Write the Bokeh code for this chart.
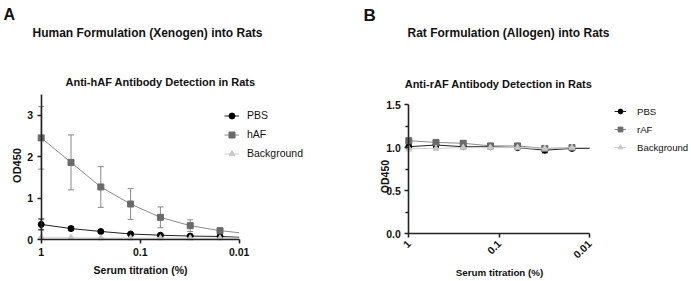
import math
from bokeh.plotting import figure
from bokeh.layouts import row
from bokeh.models import (Range1d, FixedTicker, Whisker, TeeHead, ColumnDataSource,
                          Legend, LegendItem, Label, PrintfTickFormatter)
from bokeh.embed import file_html
from bokeh.resources import INLINE

# ---------------- data ----------------
dilution = [1, 0.5, 0.25, 0.125, 0.0625, 0.03125, 0.015625]
fit_end_x = 0.01

# Panel A (xenogen)
a_pbs = [0.37, 0.27, 0.20, 0.14, 0.11, 0.09, 0.08]
a_pbs_err = [0.13, 0.04, 0.02, 0.02, 0.01, 0.01, 0.01]
a_pbs_fit_end = 0.06
a_haf = [2.45, 1.86, 1.27, 0.86, 0.54, 0.34, 0.22]
a_haf_err = [0.75, 0.66, 0.49, 0.37, 0.25, 0.14, 0.05]
a_haf_fit_end = 0.17
a_bg = [0.05, 0.05, 0.04, 0.04, 0.04, 0.04, 0.04]
a_bg_err = [0.01, 0.01, 0.01, 0.01, 0.01, 0.01, 0.01]
a_bg_fit_end = 0.04

# Panel B (allogen)
b_pbs = [1.01, 1.03, 1.01, 1.01, 1.00, 0.97, 0.99]
b_pbs_err = [0.02, 0.03, 0.02, 0.01, 0.02, 0.03, 0.02]
b_pbs_fit_end = 0.99
b_raf = [1.08, 1.06, 1.05, 1.02, 1.02, 0.99, 1.00]
b_raf_err = [0.03, 0.03, 0.03, 0.02, 0.02, 0.02, 0.02]
b_raf_fit_end = 1.00
b_bg = [0.99, 0.99, 1.00, 1.00, 1.00, 0.99, 1.00]
b_bg_err = [0.03, 0.02, 0.02, 0.02, 0.02, 0.02, 0.02]
b_bg_fit_end = 1.00

x_ticks = [1, 0.1, 0.01]
x_tick_labels = ["1", "0.1", "0.01"]
a_y_ticks = [0, 1, 2, 3]
b_y_ticks = [0, 0.5, 1.0, 1.5]
b_y_minor = [0.25, 0.75, 1.25]

FONT = "Liberation Sans"
H = 281


def make_panel(width, px_x1, px_decade, px_y0, px_per_unit, ymax, yticks, yminor,
               series, rotate, texts, legend_loc, glyph_w, legend_h, leg_standoff,
               leg_size, tick_size, yfmt):
    # the frame fills the whole canvas; axes are pinned at x=1 / y=0
    x_start = 10 ** (px_x1 / px_decade)
    x_end = 10 ** (-(width - px_x1) / px_decade)
    y_top = px_y0 / px_per_unit
    y_bot = -(H - px_y0) / px_per_unit
    p = figure(width=width, height=H, x_axis_type="log",
               x_range=Range1d(x_start, x_end), y_range=Range1d(y_bot, y_top),
               output_backend="svg", toolbar_location=None,
               min_border_left=0, min_border_right=0,
               min_border_top=0, min_border_bottom=0)
    p.outline_line_color = None
    p.grid.visible = False
    p.background_fill_color = "white"
    p.border_fill_color = "white"

    items = []
    for name, vals, errs, fit_end, color, lcolor, ecolor, marker, msize in series:
        xs = dilution + [fit_end_x]
        ys = vals + [fit_end]
        lr = p.line(xs, ys, line_color=lcolor, line_width=1)
        src = ColumnDataSource(dict(x=dilution, y=vals,
                                    lo=[v - e for v, e in zip(vals, errs)],
                                    hi=[v + e for v, e in zip(vals, errs)]))
        w = Whisker(base="x", upper="hi", lower="lo", source=src,
                    line_color=ecolor, line_width=1,
                    upper_head=TeeHead(size=6, line_color=ecolor, line_width=1),
                    lower_head=TeeHead(size=6, line_color=ecolor, line_width=1))
        p.add_layout(w)
        sr = p.scatter("x", "y", source=src, marker=marker, size=msize,
                       fill_color=color, line_color=color)
        items.append(LegendItem(label=name, renderers=[lr, sr]))

    leg = Legend(items=items, location=legend_loc, padding=0, margin=0, spacing=0,
                 glyph_width=glyph_w, glyph_height=legend_h, label_height=legend_h,
                 label_standoff=leg_standoff, border_line_color=None,
                 background_fill_alpha=0, label_text_font=FONT,
                 label_text_font_size=leg_size, label_text_color="#111111")
    p.add_layout(leg, "center")

    for ax in (p.xaxis[0], p.yaxis[0]):
        ax.axis_line_width = 1.6
        ax.axis_line_color = "#222222"
        ax.major_tick_line_width = 1.6
        ax.major_tick_line_color = "#222222"
        ax.major_tick_out = 4
        ax.major_tick_in = 0
        ax.minor_tick_out = 3
        ax.minor_tick_in = 0
        ax.minor_tick_line_width = 1.4
        ax.minor_tick_line_color = "#222222"
        ax.major_label_text_font = FONT
        ax.major_label_text_font_style = "bold"
        ax.major_label_text_font_size = tick_size
        ax.major_label_text_color = "#111111"
        ax.major_label_standoff = 4

    p.xaxis[0].ticker = FixedTicker(ticks=x_ticks, minor_ticks=[])
    p.xaxis[0].major_label_overrides = {t: l for t, l in zip(x_ticks, x_tick_labels)}
    p.xaxis[0].bounds = (0.01, 1)
    p.xaxis[0].fixed_location = 0
    if rotate:
        p.xaxis[0].major_label_orientation = math.pi / 4
    p.yaxis[0].ticker = FixedTicker(ticks=yticks, minor_ticks=yminor)
    p.yaxis[0].bounds = (0, ymax)
    p.yaxis[0].fixed_location = 1
    if yfmt:
        p.yaxis[0].formatter = PrintfTickFormatter(format=yfmt)

    for txt, (x, y), size, align, angle in texts:
        p.add_layout(Label(x=x, y=H - y, x_units="screen", y_units="screen",
                           text=txt, text_align=align, text_baseline="middle",
                           angle=angle, text_font=FONT, text_font_style="bold",
                           text_font_size=size, text_color="#111111"))
    return p


# text positions: (x from left, y from top) of the panel, in pixels
pa = make_panel(
    345, 40.7, 99.0, 239.3, 41.6, 3.5, a_y_ticks, [],
    [("PBS", a_pbs, a_pbs_err, a_pbs_fit_end, "black", "#222222", "black", "circle", 6),
     ("hAF", a_haf, a_haf_err, a_haf_fit_end, "#6a6a6a", "#8a8a8a", "#8a8a8a", "square", 6),
     ("Background", a_bg, a_bg_err, a_bg_fit_end, "#c8c8c8", "#cfcfcf", "#cfcfcf", "triangle", 6)],
    False,
    [("A", (3, 14), "16px", "left", 0),
     ("Human Formulation (Xenogen) into Rats", (147, 32), "12px", "center", 0),
     ("Anti-hAF Antibody Detection in Rats", (160, 81), "11px", "center", 0),
     ("Serum titration (%)", (140, 269), "10.5px", "center", 0),
     ("OD450", (16, 165), "11px", "center", math.pi / 2)],
    (224, 281 - 162.5), 15, 19, 8, "10.5px", "10.5px", None)

pb = make_panel(
    346, 63.3, 90.35, 233.3, 86.2, 1.5, b_y_ticks, b_y_minor,
    [("PBS", b_pbs, b_pbs_err, b_pbs_fit_end, "black", "#222222", "black", "circle", 6),
     ("rAF", b_raf, b_raf_err, b_raf_fit_end, "#6a6a6a", "#8a8a8a", "#8a8a8a", "square", 6),
     ("Background", b_bg, b_bg_err, b_bg_fit_end, "#c8c8c8", "#cfcfcf", "#cfcfcf", "triangle", 6)],
    True,
    [("B", (18, 15), "17px", "left", 0),
     ("Rat Formulation (Allogen) into Rats", (163, 32), "12px", "center", 0),
     ("Anti-rAF Antibody Detection in Rats", (153, 83), "11px", "center", 0),
     ("Serum titration (%)", (154, 272), "9.8px", "center", 0),
     ("OD450", (39, 176), "10.5px", "center", math.pi / 2)],
    (269, 281 - 156), 12, 18, 11, "9.6px", "10.5px", "%.1f")

layout = row(pa, pb)
open("out.html", "w").write(file_html(layout, INLINE))
